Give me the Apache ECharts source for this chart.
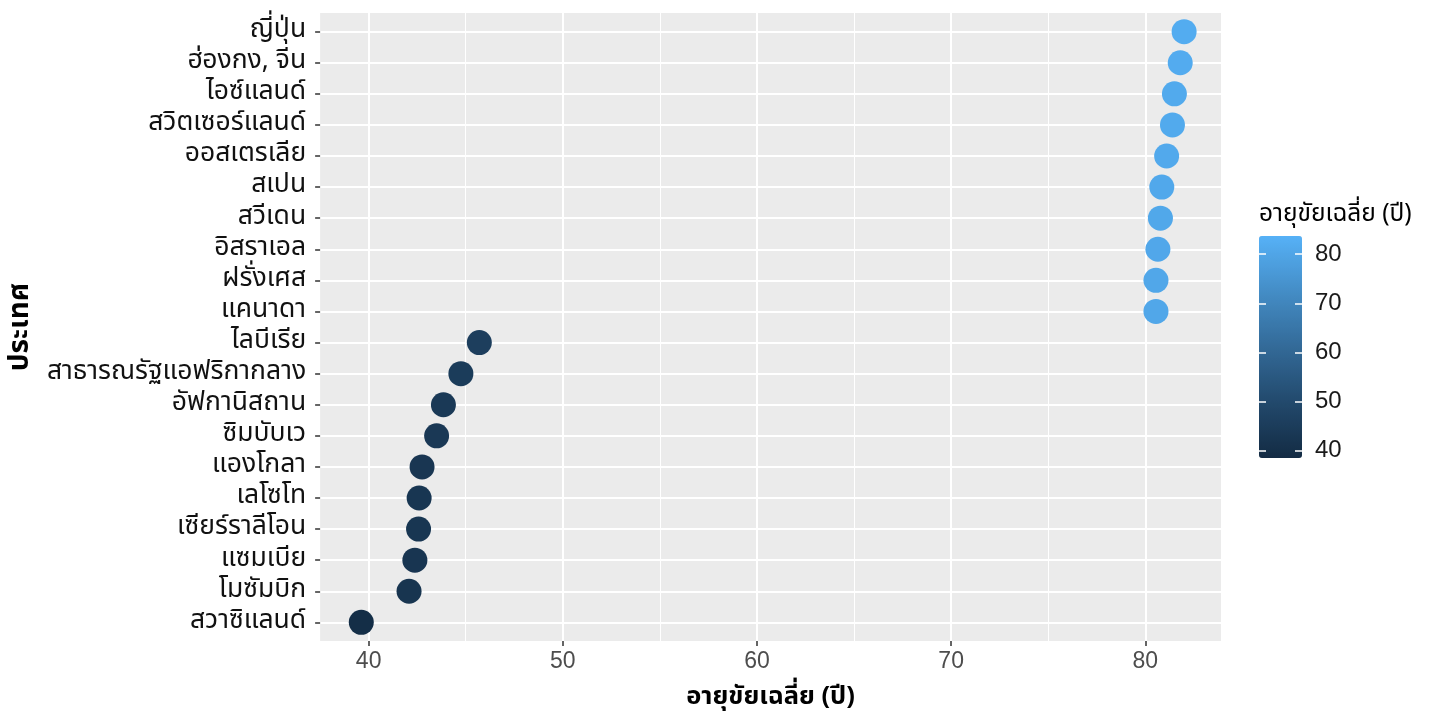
<!DOCTYPE html>
<html><head><meta charset="utf-8">
<script src="https://cdn.jsdelivr.net/npm/echarts@6/dist/echarts.min.js"></script>
<style>html,body{margin:0;padding:0;background:#fff}#c{width:1440px;height:720px}</style>
</head><body><div id="c"></div>
<script>
// ---- data (top row first) ----
const countries = ['ญี่ปุ่น','ฮ่องกง, จีน','ไอซ์แลนด์','สวิตเซอร์แลนด์','ออสเตรเลีย','สเปน','สวีเดน','อิสราเอล','ฝรั่งเศส','แคนาดา',
  'ไลบีเรีย','สาธารณรัฐแอฟริกากลาง','อัฟกานิสถาน','ซิมบับเว','แองโกลา','เลโซโท','เซียร์ราลีโอน','แซมเบีย','โมซัมบิก','สวาซิแลนด์'];
const lifeExp = [82.0, 81.8, 81.5, 81.4, 81.1, 80.85, 80.78, 80.65, 80.55, 80.55,
  45.7, 44.75, 43.85, 43.5, 42.75, 42.6, 42.57, 42.38, 42.08, 39.62];
const xTicks = [40, 50, 60, 70, 80];
const xMinorTicks = [45, 55, 65, 75];
const legendTicks = [40, 50, 60, 70, 80];
const legendMin = 38.5, legendMax = 83.7;
const xTitle = 'อายุขัยเฉลี่ย (ปี)';
const yTitle = 'ประเทศ';
const legendTitle = 'อายุขัยเฉลี่ย (ปี)';
const gradient = ['#132B43', '#22496C', '#336A98', '#448DC6', '#56B1F7'];

const rowIdx = countries.map((_, i) => i);
const FONT = "'Noto Sans Thai', 'Noto Sans Thai UI', 'Noto Sans', Tahoma, sans-serif";
const NUMFONT = "'Liberation Sans', Arial, sans-serif";

const chart = echarts.init(document.getElementById('c'));
chart.setOption({
  animation: false,
  backgroundColor: '#ffffff',
  grid: [
    { left: 317, right: 219, top: 13, bottom: 79, show: true, backgroundColor: '#EBEBEB', borderWidth: 0, containLabel: false },
    { left: 1259, top: 236, width: 43, height: 222, show: false, containLabel: false }
  ],
  xAxis: [
    { type: 'value', gridIndex: 0, min: 37.5, max: 83.9, position: 'bottom',
      axisLine: { show: false, onZero: false },
      axisTick: { show: true, length: 5, lineStyle: { color: '#333', width: 1.5 }, customValues: xTicks },
      axisLabel: { customValues: xTicks, fontSize: 23, color: '#4D4D4D', margin: 9, fontFamily: NUMFONT },
      splitLine: { show: true, lineStyle: { color: '#ffffff', width: 2 } },
      name: xTitle, nameLocation: 'middle', nameGap: 45,
      nameTextStyle: { fontSize: 25.5, fontWeight: 'bold', color: '#000', fontFamily: FONT } },
    { type: 'value', gridIndex: 0, min: 37.5, max: 83.9, position: 'top',
      axisLine: { show: false, onZero: false },
      axisTick: { show: false, customValues: xMinorTicks },
      axisLabel: { show: false, customValues: xMinorTicks },
      splitLine: { show: true, lineStyle: { color: '#ffffff', width: 1 } } },
    { type: 'value', gridIndex: 1, min: 0, max: 1, show: false }
  ],
  yAxis: [
    { type: 'value', gridIndex: 0, inverse: true, min: -0.6, max: 19.6,
      axisLine: { show: false, onZero: false },
      axisTick: { show: true, length: 5, lineStyle: { color: '#333', width: 1.5 }, customValues: rowIdx },
      axisLabel: { customValues: rowIdx, formatter: v => countries[v], fontSize: 26.5, color: '#111', margin: 14, fontFamily: FONT },
      splitLine: { show: true, lineStyle: { color: '#ffffff', width: 2 } },
      name: yTitle, nameLocation: 'middle', nameGap: 278, nameRotate: 90,
      nameTextStyle: { fontSize: 28, fontWeight: 'bold', color: '#000', fontFamily: FONT } },
    { type: 'value', gridIndex: 1, min: legendMin, max: legendMax, position: 'right', z: 10,
      axisLine: { show: false, onZero: false },
      axisTick: { show: true, inside: true, length: 7, lineStyle: { color: '#ffffff', width: 1.5 }, customValues: legendTicks },
      axisLabel: { customValues: legendTicks, fontSize: 24, color: '#1a1a1a', margin: 13, fontFamily: NUMFONT },
      splitLine: { show: false } },
    { type: 'value', gridIndex: 1, min: legendMin, max: legendMax, position: 'left', z: 10,
      axisLine: { show: false, onZero: false },
      axisTick: { show: true, inside: true, length: 7, lineStyle: { color: '#ffffff', width: 1.5 }, customValues: legendTicks },
      axisLabel: { show: false },
      splitLine: { show: false },
      name: legendTitle, nameLocation: 'end', nameGap: 7,
      nameTextStyle: { fontSize: 24.5, color: '#000', align: 'left', verticalAlign: 'bottom', fontFamily: FONT } }
  ],
  visualMap: {
    type: 'continuous', seriesIndex: 0, dimension: 0,
    min: legendMin, max: legendMax, inRange: { color: gradient },
    show: true, calculable: false, hoverLink: false, text: null,
    left: 1259, top: 236, itemWidth: 43, itemHeight: 222, padding: 0, orient: 'vertical'
  },
  series: [{
    type: 'scatter', xAxisIndex: 0, yAxisIndex: 0,
    symbolSize: 25,
    data: countries.map((c, i) => [lifeExp[i], i]),
    itemStyle: { opacity: 1 }
  }]
});
</script>
</body></html>
